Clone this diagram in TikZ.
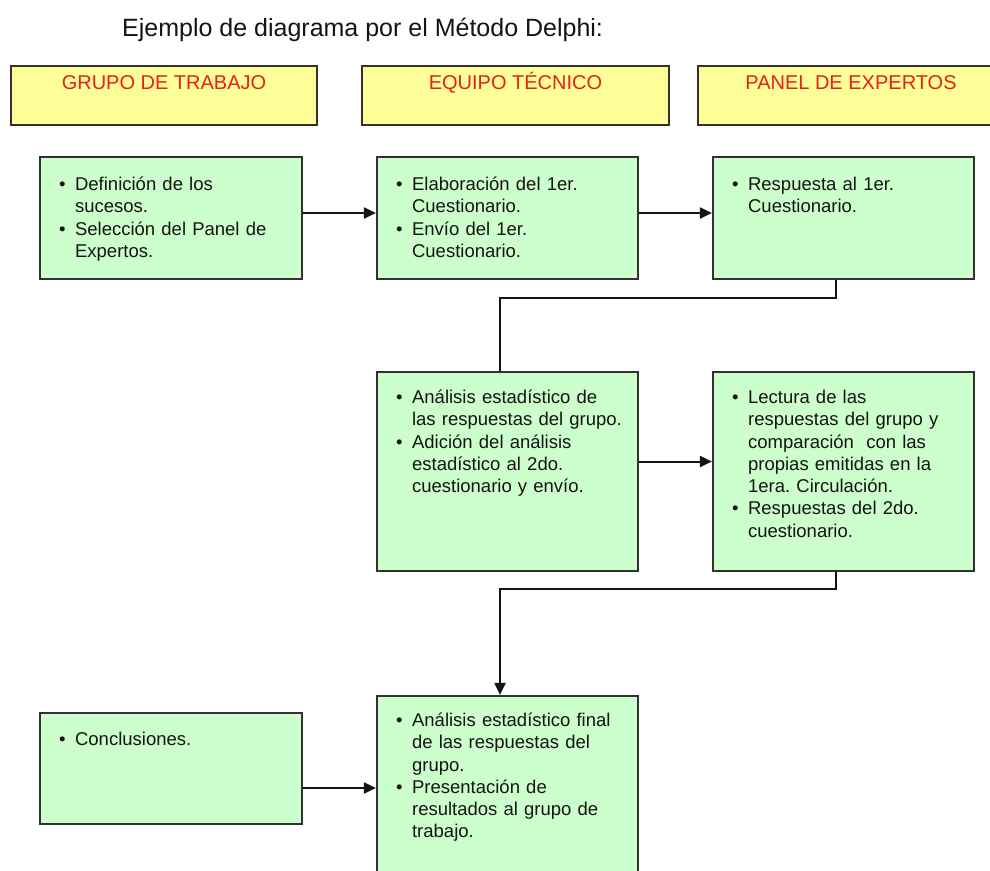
\documentclass[tikz,border=0pt]{standalone}
\usepackage{fontspec}
\setmainfont{Liberation Sans}
\usetikzlibrary{arrows.meta}
\definecolor{hdrfill}{RGB}{255,255,153}
\definecolor{boxfill}{RGB}{204,255,204}
\definecolor{edgecol}{RGB}{50,50,50}
\definecolor{hdrtext}{RGB}{235,30,25}
\definecolor{ink}{RGB}{20,20,20}
\newcommand\bitem[1]{\par\hangindent=16pt\hangafter=1\noindent\makebox[16pt][l]{\rule{0pt}{17pt}\textbullet}#1\par}
\begin{document}
\begin{tikzpicture}[x=1pt,y=-1pt,
  hdr/.style={draw=edgecol, line width=2.2pt, fill=hdrfill, minimum height=59pt, inner sep=0pt},
  card/.style={draw=edgecol, line width=2.2pt, fill=boxfill, inner sep=0pt, minimum width=261pt},
  htext/.style={anchor=base, inner sep=0pt, text=hdrtext, font=\fontsize{20}{24}\selectfont},
  btext/.style={anchor=north west, inner sep=0pt, text width=250pt, align=left, text=ink, font=\fontsize{18.5}{22.3}\selectfont\frenchspacing},
  conn/.style={draw=ink, line width=2pt},
  arr/.style={conn, -{Triangle[length=12pt,width=11pt]}}]
\clip (0,0) rectangle (990,870);
\fill[white] (0,0) rectangle (990,870);

\node[anchor=base west, inner sep=0pt, text=ink, font=\fontsize{25}{30}\selectfont] (title) at (122,36) {Ejemplo de diagrama por el Método Delphi:};

% headers
\node[hdr, minimum width=306pt] (h1) at (164,95.5) {};
\node[hdr, minimum width=307pt] (h2) at (515.5,95.5) {};
\node[hdr, minimum width=306pt] (h3) at (851,95.5) {};
\node[htext] (h1t) at ([yshift=-25pt]h1.north) {GRUPO DE TRABAJO};
\node[htext] (h2t) at ([yshift=-25pt]h2.north) {EQUIPO TÉCNICO};
\node[htext] (h3t) at ([yshift=-25pt]h3.north) {PANEL DE EXPERTOS};

% boxes
\node[card, minimum width=262pt, minimum height=122pt] (A) at (171,218) {};
\node[card, minimum height=122pt] (B) at (507.5,218) {};
\node[card, minimum height=122pt] (C) at (843.5,218) {};
\node[card, minimum height=199pt] (D) at (507.5,471.5) {};
\node[card, minimum height=199pt] (E) at (843.5,471.5) {};
\node[card, minimum height=208pt] (F) at (507.5,800) {};
\node[card, minimum width=262pt, minimum height=111pt] (G) at (171,768.5) {};

% texts
\node[btext] (At) at ([xshift=20pt,yshift=-12pt]A.north west) {%
\bitem{Definición de los\newline sucesos.}%
\bitem{Selección del Panel de\newline Expertos.}};
\node[btext] (Bt) at ([xshift=20pt,yshift=-12pt]B.north west) {%
\bitem{Elaboración del 1er.\newline Cuestionario.}%
\bitem{Envío del 1er.\newline Cuestionario.}};
\node[btext] (Ct) at ([xshift=20pt,yshift=-12pt]C.north west) {%
\bitem{Respuesta al 1er.\newline Cuestionario.}};
\node[btext] (Dt) at ([xshift=20pt,yshift=-10pt]D.north west) {%
\bitem{Análisis estadístico de\newline las respuestas del grupo.}%
\bitem{Adición del análisis\newline estadístico al 2do.\newline cuestionario y envío.}};
\node[btext] (Et) at ([xshift=20pt,yshift=-10pt]E.north west) {%
\bitem{Lectura de las\newline respuestas del grupo y\newline comparación\ \ con las\newline propias emitidas en la\newline 1era. Circulación.}%
\bitem{Respuestas del 2do.\newline cuestionario.}};
\node[btext] (Ft) at ([xshift=20pt,yshift=-9pt]F.north west) {%
\bitem{Análisis estadístico final\newline de las respuestas del\newline grupo.}%
\bitem{Presentación de\newline resultados al grupo de\newline trabajo.}};
\node[btext] (Gt) at ([xshift=20pt,yshift=-11pt]G.north west) {%
\bitem{Conclusiones.}};

% connectors
\draw[arr] ([yshift=5pt]A.east) -- ([yshift=5pt]B.west);
\draw[arr] ([yshift=5pt]B.east) -- ([yshift=5pt]C.west);
\coordinate (c1) at ([xshift=-7.5pt]C.south);
\coordinate (d1) at ([xshift=-7.5pt]D.north);
\draw[conn] (c1) -- ++(0,18) -| (d1);
\draw[arr] ([yshift=10pt]D.east) -- ([yshift=10pt]E.west);
\coordinate (e1) at ([xshift=-7.5pt]E.south);
\coordinate (f1) at ([xshift=-7.5pt]F.north);
\draw[arr] (e1) -- ++(0,17) -| (f1);
\coordinate (g1) at ([yshift=-19.5pt]G.east);
\draw[arr] (g1) -- (g1 -| F.west);
\end{tikzpicture}
\end{document}
